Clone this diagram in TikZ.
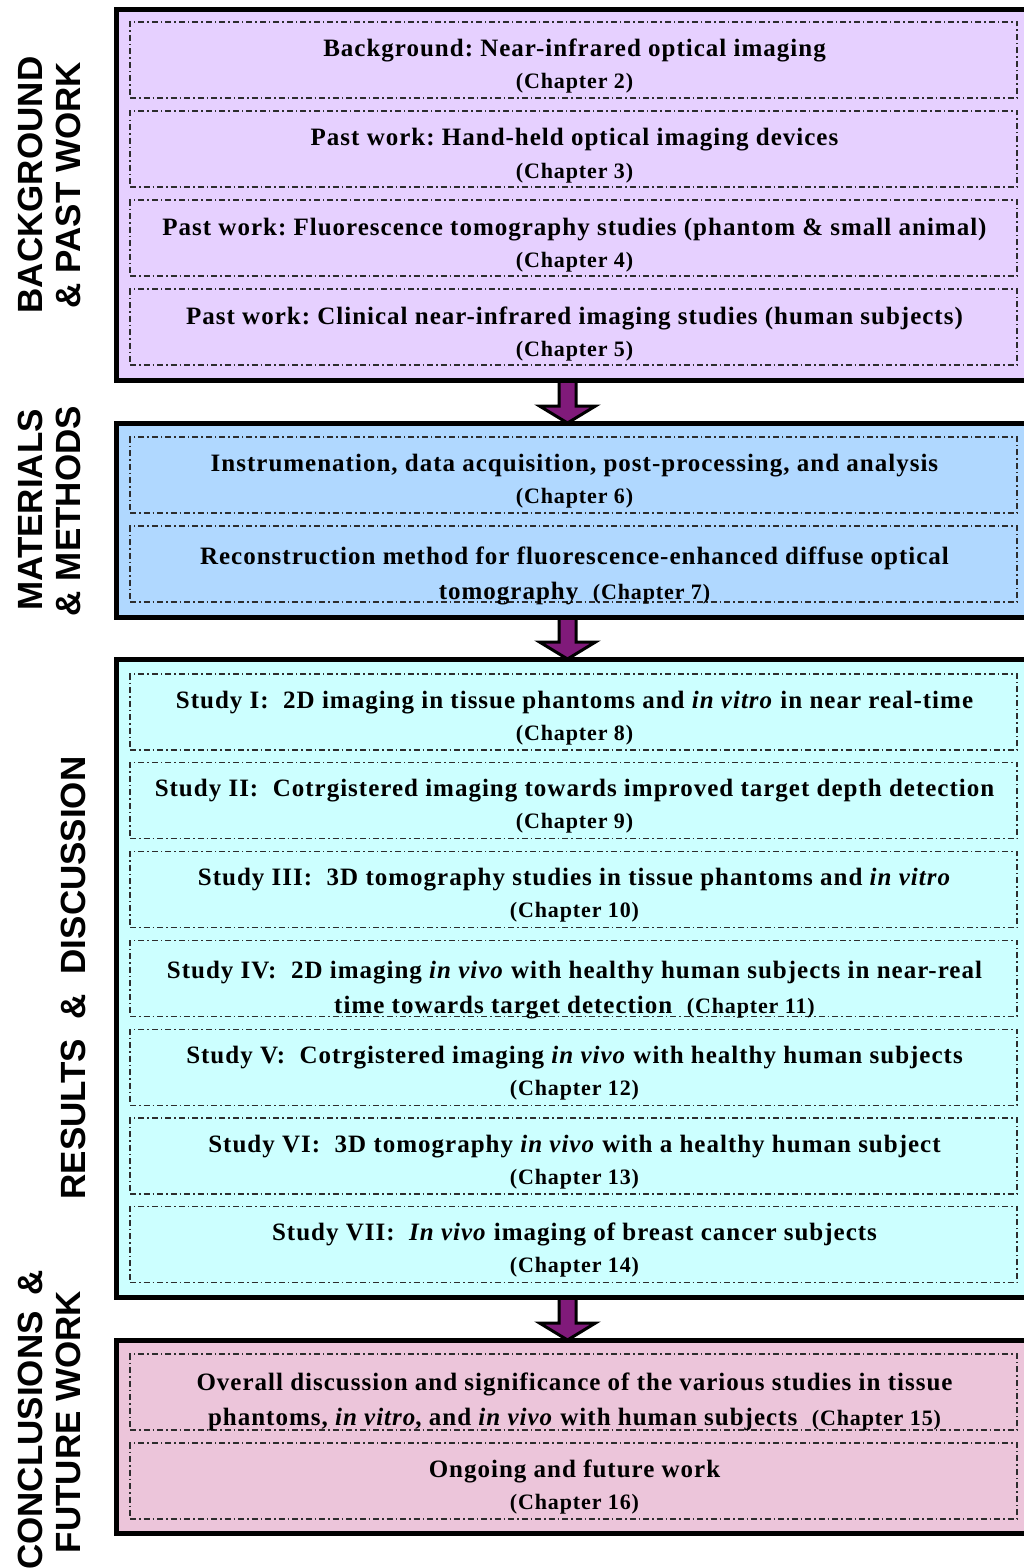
\documentclass[tikz,border=0pt]{standalone}
\usepackage{fontspec}
\setmainfont{Liberation Serif}[LetterSpace=4]
\newfontfamily\sidefont{Liberation Sans}
\usetikzlibrary{calc}
\frenchspacing

\definecolor{lavenderfill}{RGB}{230,208,255}
\definecolor{skyfill}{RGB}{176,216,255}
\definecolor{cyanfill}{RGB}{204,255,255}
\definecolor{pinkfill}{RGB}{236,197,218}
\definecolor{arrowpurple}{RGB}{128,26,122}
\definecolor{dashgray}{RGB}{45,45,45}

\pgfdeclarelayer{behind}
\pgfsetlayers{behind,main}

% chapter reference, set a little smaller than the headline
\newcommand\ch[1]{{\fontsize{22}{26}\selectfont(Chapter~#1)}}

% one dash-dotted entry: name, top edge, first line, second line, baseline offsets
\newcommand\entry[6]{%
  \node[entrybox, anchor=north west] (#1) at (130,#2) {};
  \node[headline] (#1a) at ($(#1.north)+(1,#5)$) {#3};
  \node[headline] (#1b) at ($(#1.north)+(1,#6)$) {#4};
}

% fat outlined arrow between two points on a vertical line
\newcommand\flowarrow[2]{%
  \path[fatarrow] let \p1=(#1), \p2=(#2) in
    (\x1-8.5pt,\y1) -- (\x1+8.5pt,\y1) -- (\x1+8.5pt,\y2+17pt) --
    (\x1+28pt,\y2+17pt) -- (\x1,\y2) -- (\x1-28pt,\y2+17pt) --
    (\x1-8.5pt,\y2+17pt) -- cycle;
}

\tikzset{
  section/.style={draw=black, line width=5pt, outer sep=0pt, inner sep=0pt,
    minimum width=930pt},
  entrybox/.style={draw=dashgray, line width=1.3pt, outer sep=0pt, inner sep=0pt,
    dash pattern=on 6pt off 3pt on 1.5pt off 3pt,
    minimum width=887pt, minimum height=76pt},
  headline/.style={anchor=base, inner sep=0pt,
    font=\fontsize{25}{28}\selectfont\bfseries},
  sidelabel/.style={anchor=base, rotate=90, inner sep=0pt,
    font=\sidefont\fontsize{35}{36}\selectfont\bfseries},
  fatarrow/.style={draw=black, line width=3pt, fill=arrowpurple, line join=miter},
}

\begin{document}
\begin{tikzpicture}[x=1pt, y=-1pt]
\useasboundingbox (0,0) rectangle (1024,1568);
\clip (0,0) rectangle (1024,1568);

% the four sections
\node[section, fill=lavenderfill, anchor=north west, minimum height=370pt] (s1) at (116,10) {};
\node[section, fill=skyfill, anchor=north west, minimum height=194pt] (s2) at (116,423) {};
\node[section, fill=cyanfill, anchor=north west, minimum height=638pt] (s3) at (116,659) {};
\node[section, fill=pinkfill, anchor=north west, minimum height=193pt] (s4) at (116,1340) {};

% background and past work
\entry{p1}{22}{Background: Near-infrared optical imaging}{\ch{2}}{35}{67}
\entry{p2}{111}{Past work: Hand-held optical imaging devices}{\ch{3}}{35}{67}
\entry{p3}{200}{Past work: Fluorescence tomography studies (phantom \& small animal)}{\ch{4}}{35}{67}
\entry{p4}{289}{Past work: Clinical near-infrared imaging studies (human subjects)}{\ch{5}}{35}{67}

% materials and methods
\entry{m1}{437}{Instrumenation, data acquisition, post-processing, and analysis}{\ch{6}}{34}{66}
\entry{m2}{526}{Reconstruction method for fluorescence-enhanced diffuse optical}{tomography\ \ \ch{7}}{38}{73}

% results and discussion
\entry{r1}{674}{Study I:\ \ 2D imaging in tissue phantoms and \textit{in vitro} in near real-time}{\ch{8}}{34}{66}
\entry{r2}{762.8}{Study II:\ \ Cotrgistered imaging towards improved target depth detection}{\ch{9}}{34}{66}
\entry{r3}{851.6}{Study III:\ \ 3D tomography studies in tissue phantoms and \textit{in vitro}}{\ch{10}}{34}{66}
\entry{r4}{940.4}{Study IV:\ \ 2D imaging \textit{in vivo} with healthy human subjects in near-real}{time towards target detection\ \ \ch{11}}{38}{73}
\entry{r5}{1029.2}{Study V:\ \ Cotrgistered imaging \textit{in vivo} with healthy human subjects}{\ch{12}}{34}{66}
\entry{r6}{1118}{Study VI:\ \ 3D tomography \textit{in vivo} with a healthy human subject}{\ch{13}}{34}{66}
\entry{r7}{1206.8}{Study VII:\ \ \textit{In vivo} imaging of breast cancer subjects}{\ch{14}}{34}{66}

% conclusions and future work
\entry{c1}{1354}{Overall discussion and significance of the various studies in tissue}{phantoms, \textit{in vitro}, and \textit{in vivo} with human subjects\ \ \ch{15}}{36}{71}
\entry{c2}{1443}{Ongoing and future work}{\ch{16}}{34}{66}

% section labels
\node[sidelabel] (l1a) at (42,185) {BACKGROUND};
\node[sidelabel] (l1b) at (80,185) {\&\ PAST WORK};
\node[sidelabel] (l2a) at (42,510) {MATERIALS};
\node[sidelabel] (l2b) at (80,511) {\&\ METHODS};
\node[sidelabel] (l3) at (85,978) {RESULTS\hspace{0.56em}\&\hspace{0.56em}DISCUSSION};
\node[sidelabel] (l4a) at (42,1420) {CONCLUSIONS\hspace{0.45em}\&};
\node[sidelabel] (l4b) at (80,1422) {FUTURE WORK};

% arrows between sections
\coordinate (axis) at (567.5,0);
\begin{pgfonlayer}{behind}
  \flowarrow{s1.south -| axis}{s2.north -| axis}
  \flowarrow{s2.south -| axis}{s3.north -| axis}
  \flowarrow{s3.south -| axis}{s4.north -| axis}
\end{pgfonlayer}
\end{tikzpicture}
\end{document}
